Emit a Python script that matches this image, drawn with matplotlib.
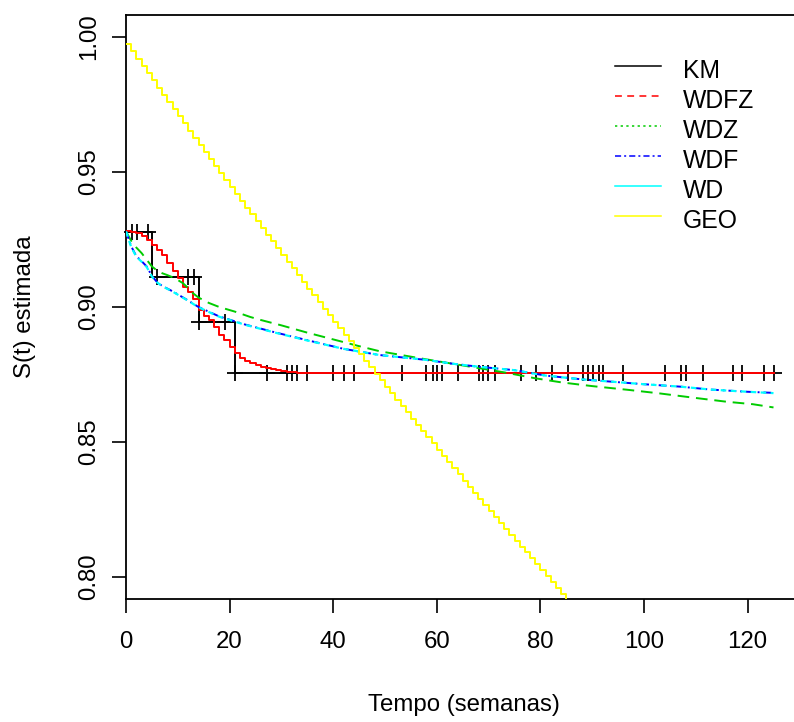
import numpy as np
import matplotlib
matplotlib.use("Agg")
import matplotlib.pyplot as plt
from matplotlib.lines import Line2D

plt.rcParams['font.family'] = ['Liberation Sans', 'DejaVu Sans']

# Kaplan-Meier (step) and censored times
km_t = [0, 5, 14, 21, 125]
km_s = [0.9278, 0.9111, 0.8944, 0.8756, 0.8756]
cens_t = [1.2, 2.1, 4.2, 5.9, 12.0, 13.1, 14.1, 19.2, 21.0, 27.2, 31, 32, 33.1, 35,
          40, 42.1, 44, 53.2, 58, 59.2, 60.1, 61, 64, 68.1, 69, 69.9, 71.2, 76.3,
          79.2, 82.2, 85.3, 88.2, 89.1, 90.1, 91.3, 92.1, 96, 104.1, 107.1, 108.2,
          111.3, 117.2, 119, 123.2, 125]

# WDFZ (step, weekly)
wdfz_t = list(range(0, 35)) + [125]
wdfz_s = [0.9283, 0.9279, 0.9273, 0.9263, 0.9247, 0.9231, 0.9211, 0.9192, 0.9164,
          0.9133, 0.9106, 0.9075, 0.9054, 0.9030, 0.8990, 0.8968, 0.8950, 0.8927,
          0.8898, 0.8877, 0.8853, 0.8830, 0.8812, 0.8799, 0.8791, 0.8785, 0.8779,
          0.8773, 0.8769, 0.8766, 0.8763, 0.8760, 0.8758, 0.8757, 0.8756, 0.8756]

# WDZ
wdz_t = [0, 1, 2, 3, 4, 5, 6, 7, 8, 9, 10, 11, 12, 13, 14, 16, 18, 21, 24, 26, 30, 35,
         40, 45, 49, 55, 58, 63, 68, 73, 79, 84, 90, 97, 103, 110, 116, 121, 125]
wdz_s = [0.9280, 0.9245, 0.9220, 0.9200, 0.9175, 0.9150, 0.9135, 0.9125, 0.9118,
         0.9110, 0.9100, 0.9088, 0.9070, 0.9050, 0.9035, 0.9015, 0.9000, 0.8983,
         0.8963, 0.8952, 0.8932, 0.8905, 0.8880, 0.8855, 0.8836, 0.8816, 0.8806,
         0.8790, 0.8774, 0.8758, 0.8736, 0.8721, 0.8707, 0.8693, 0.8680, 0.8663,
         0.8649, 0.8640, 0.8628]

# WDF
wdf_t = [0, 1, 2, 3, 4, 5, 6, 7, 9, 12, 14, 18, 23, 29, 35, 42, 49, 58, 63, 68, 75,
         81, 88, 94, 100, 107, 113, 120, 125]
wdf_s = [0.9280, 0.9225, 0.9188, 0.9170, 0.9150, 0.9115, 0.9092, 0.9078, 0.9058,
         0.9024, 0.9000, 0.8965, 0.8935, 0.8905, 0.8877, 0.8845, 0.8822, 0.8804,
         0.8790, 0.8779, 0.8766, 0.8746, 0.8732, 0.8723, 0.8714, 0.8705, 0.8694,
         0.8686, 0.8682]

# WD
wd_t = [0, 1, 2, 3, 4, 5, 6, 7, 9, 12, 14, 18, 23, 29, 35, 42, 49, 58, 63, 68, 75,
        81, 88, 94, 100, 107, 113, 120, 125]
wd_s = [0.9280, 0.9222, 0.9186, 0.9168, 0.9148, 0.9113, 0.9091, 0.9077, 0.9057,
        0.9023, 0.8999, 0.8964, 0.8934, 0.8904, 0.8876, 0.8845, 0.8822, 0.8804,
        0.8790, 0.8779, 0.8766, 0.8746, 0.8732, 0.8723, 0.8714, 0.8705, 0.8694,
        0.8686, 0.8681]

# GEO (step, weekly)
geo_t = list(range(0, 87))
geo_s = [0.9974, 0.9947, 0.9920, 0.9893, 0.9866, 0.9839, 0.9812, 0.9785, 0.9759,
         0.9732, 0.9706, 0.9680, 0.9653, 0.9627, 0.9601, 0.9575, 0.9549, 0.9523,
         0.9497, 0.9471, 0.9445, 0.9419, 0.9393, 0.9368, 0.9343, 0.9318, 0.9293,
         0.9268, 0.9243, 0.9218, 0.9193, 0.9168, 0.9143, 0.9118, 0.9093, 0.9068,
         0.9043, 0.9018, 0.8993, 0.8969, 0.8945, 0.8921, 0.8897, 0.8873, 0.8849,
         0.8825, 0.8801, 0.8777, 0.8753, 0.8729, 0.8705, 0.8681, 0.8657, 0.8633,
         0.8610, 0.8587, 0.8564, 0.8541, 0.8518, 0.8495, 0.8472, 0.8449, 0.8426,
         0.8403, 0.8380, 0.8357, 0.8334, 0.8311, 0.8288, 0.8265, 0.8243, 0.8221,
         0.8199, 0.8177, 0.8155, 0.8133, 0.8112, 0.8091, 0.8069, 0.8047, 0.8025,
         0.8003, 0.7981, 0.7959, 0.7937, 0.7915, 0.7894]

labels = ["KM", "WDFZ", "WDZ", "WDF", "WD", "GEO"]

W, H = 794, 722
fig = plt.figure(figsize=(W / 100, H / 100), dpi=100)

def fx(px):
    return px / W

def fy(py):
    return 1 - py / H

ax = fig.add_axes([fx(126), fy(599), 1 - fx(126), fy(15) - fy(599)])
ax.set_xlim(0, (794 - 126) / 5.18)
ax.set_ylim(0.79185, 1.00815)

lw = 1.4
ax.plot(km_t, km_s, drawstyle='steps-post', color='black', lw=lw, zorder=2)
idx = np.searchsorted(km_t, cens_t, side='right') - 1
cens_s = np.array(km_s)[idx]
ax.plot(cens_t, cens_s, ls='none', marker='+', ms=11.5, mew=1.3, color='black',
        zorder=2, clip_on=False)

ax.plot(wdfz_t, wdfz_s, drawstyle='steps-post', color='red', lw=lw, zorder=3)
ax.plot(wdz_t, wdz_s, color='#00cc00', lw=lw, dashes=(6, 3.5), zorder=3)
ax.plot(wdf_t, wdf_s, color='blue', lw=lw, dashes=(4, 2, 1, 2), zorder=3)
ax.plot(wd_t, wd_s, color='cyan', lw=lw + 0.2, dashes=(2.5, 2), zorder=4)
ax.plot(geo_t, geo_s, drawstyle='steps-post', color='yellow', lw=lw, zorder=5)

ax.spines['right'].set_visible(False)
for side in ['left', 'top', 'bottom']:
    ax.spines[side].set_linewidth(1.3)

ax.set_xticks([0, 20, 40, 60, 80, 100, 120])
ax.set_yticks([0.80, 0.85, 0.90, 0.95, 1.00])
ax.set_yticklabels(["0.80", "0.85", "0.90", "0.95", "1.00"], rotation=90, va='center')
ax.tick_params(axis='both', direction='out', length=10, width=1.2, labelsize=17.3)
ax.tick_params(axis='x', pad=13)
ax.tick_params(axis='y', pad=8.6)

fig.text(fx(464), fy(705), "Tempo (semanas)", ha='center', va='center', fontsize=17.3)
fig.text(fx(25), fy(307), "S(t) estimada", ha='center', va='center', rotation=90,
         fontsize=17.3)

# legend, drawn by hand without a frame
styles = [
    dict(color='black'),
    dict(color='red', dashes=(4.5, 3.5)),
    dict(color='#00cc00', dashes=(1.5, 2.2)),
    dict(color='blue', dashes=(4, 2, 1.3, 2)),
    dict(color='cyan'),
    dict(color='yellow'),
]
for i, (lab, st) in enumerate(zip(labels, styles)):
    y = 66 + 30 * i
    fig.add_artist(Line2D([fx(615), fx(661)], [fy(y), fy(y)], lw=1.1, **st))
    fig.text(fx(683), fy(y + 5), lab, ha='left', va='center', fontsize=17.8)

fig.savefig("out.png", dpi=100)
